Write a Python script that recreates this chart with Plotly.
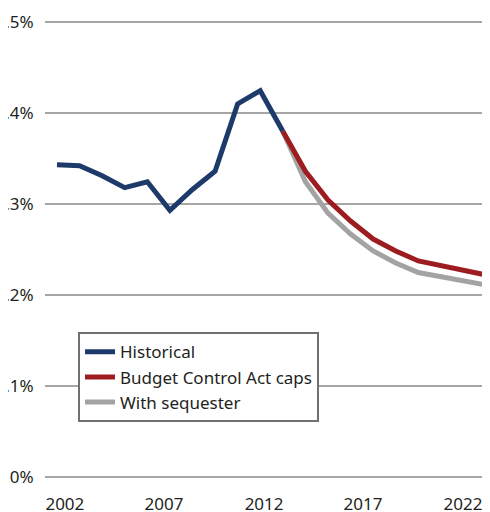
import plotly.graph_objects as go

# Data (percent)
hist_years = list(range(2002, 2013))
hist_values = [0.343, 0.342, 0.331, 0.318, 0.3245, 0.293, 0.316, 0.336, 0.410, 0.4245, 0.380]

proj_years = list(range(2012, 2022))
bca_values = [0.380, 0.336, 0.3044, 0.2813, 0.2615, 0.2484, 0.2374, 0.2325, 0.2275, 0.2220]
seq_values = [0.380, 0.3245, 0.290, 0.267, 0.2484, 0.2352, 0.2247, 0.2198, 0.2154, 0.2110]

x_tick_labels = ["2002", "2007", "2012", "2017", "2022"]
x_tick_positions = [2002.35, 2006.74, 2011.17, 2015.55, 2019.98]
y_tick_values = [0, 0.1, 0.2, 0.3, 0.4, 0.5]
y_tick_labels = ["0%", ".1%", ".2%", ".3%", ".4%", ".5%"]

NAVY = "#1d3a6a"
RED = "#9d1c20"
GRAY = "#a3a3a3"
FONT = "Noto Sans"

fig = go.Figure()
fig.add_trace(go.Scatter(x=proj_years, y=seq_values, mode="lines", name="With sequester",
                         line=dict(color=GRAY, width=5), legendrank=3))
fig.add_trace(go.Scatter(x=proj_years, y=bca_values, mode="lines", name="Budget Control Act caps",
                         line=dict(color=RED, width=5), legendrank=2))
fig.add_trace(go.Scatter(x=hist_years, y=hist_values, mode="lines", name="Historical",
                         line=dict(color=NAVY, width=5), legendrank=1))

# page body has an 8px margin; figure sized to fill the rest of the window
fig.update_layout(
    width=482, height=504,
    margin=dict(l=37, r=3, t=11, b=32),
    paper_bgcolor="white", plot_bgcolor="white",
    font=dict(family=FONT, size=17, color="#231f20"),
    showlegend=True,
    legend=dict(x=0.0747, y=0.3205, xanchor="left", yanchor="top",
                bgcolor="white", bordercolor="#707070", borderwidth=2,
                font=dict(family=FONT, size=17, color="#231f20"),
                itemwidth=30, tracegroupgap=0),
    xaxis=dict(range=[2001.47, 2021.04], showgrid=False, zeroline=False, showline=False,
               automargin=False,
               tickmode="array", tickvals=x_tick_positions, ticktext=x_tick_labels,
               ticks="outside", ticklen=9, tickcolor="rgba(0,0,0,0)"),
    yaxis=dict(range=[-0.0033, 0.5033], showgrid=True, gridcolor="#a6a6a6", gridwidth=1.5,
               zeroline=False, showline=False, automargin=False,
               tickmode="array", tickvals=y_tick_values, ticktext=y_tick_labels,
               ticks="outside", ticklen=7, tickcolor="rgba(0,0,0,0)"),
)

fig.write_html("out.html")
